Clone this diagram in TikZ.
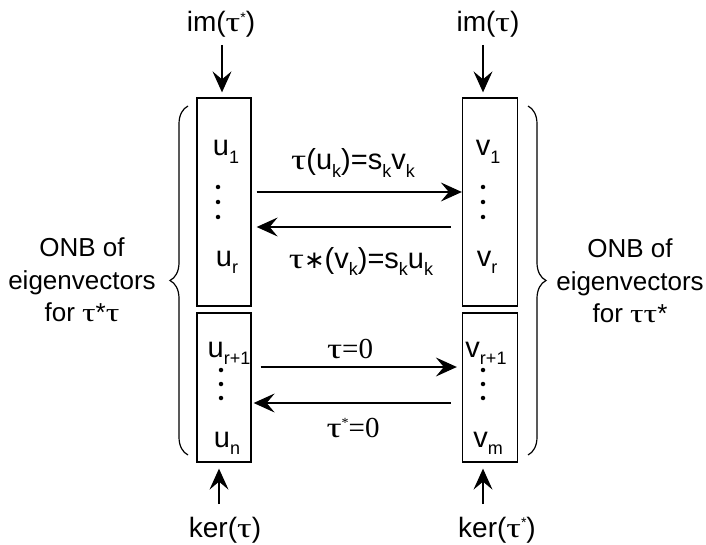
\documentclass[tikz,border=0pt]{standalone}
\usepackage{fontspec}
\usepackage{graphicx}
\setmainfont{Liberation Sans}
\newfontfamily\grf{Liberation Serif}
\newfontfamily\djsf{DejaVu Sans}
\usetikzlibrary{arrows.meta,decorations.pathreplacing}
\newcommand\tu{{\grf\scalebox{1.3}[1]{τ}}}
\newcommand\sbx[1]{\raisebox{-0.25em}{\fontsize{18}{18}\selectfont #1}}
\newcommand\spx[1]{\raisebox{0.33em}{\fontsize{14}{14}\selectfont #1}}
\begin{document}
\begin{tikzpicture}[x=1pt,y=-1pt,
  box/.style={draw,line width=1.3pt,minimum width=54pt,inner sep=0pt},
  arr/.style={line width=1.2pt,-{Stealth[length=21pt,width=19pt,inset=8pt]}},
  lab/.style={font=\fontsize{29}{34}\selectfont,inner sep=0pt,anchor=base},
  side/.style={font=\fontsize{26}{32.5}\selectfont,align=center,inner sep=0pt},
  ends/.style={font=\fontsize{28}{32}\selectfont,inner sep=0pt,anchor=base},
  dotc/.style={fill,circle,inner sep=0pt,minimum size=4.5pt},
  brc/.style={decorate,decoration={brace,amplitude=18pt},line width=1.2pt}]
\useasboundingbox (0,0) rectangle (706,545);
% boxes
\node[box,minimum height=208pt] (UL) at (224,202) {};
\node[box,minimum height=149pt] (LL) at (224,387.5) {};
\node[box,minimum width=55pt,minimum height=208pt] (UR) at (490,202) {};
\node[box,minimum width=55pt,minimum height=149pt] (LR) at (490,387.5) {};
% box contents
\node[lab] (u1) at (226,156) {u\sbx{1}};
\node[lab] (ur) at (227,266) {u\sbx{r}};
\node[lab] (ur1) at (229,357) {u\sbx{r+1}};
\node[lab] (un) at (227,447) {u\sbx{n}};
\node[lab] (v1) at (488,156) {v\sbx{1}};
\node[lab] (vr) at (487,266) {v\sbx{r}};
\node[lab] (vr1) at (486,357) {v\sbx{r+1}};
\node[lab] (vm) at (488,447) {v\sbx{m}};
\foreach \y in {187,202,217}{\node[dotc] at (218,\y) {}; \node[dotc] at (483,\y) {};}
\foreach \y in {370,384,398}{\node[dotc] at (221,\y) {}; \node[dotc] at (483,\y) {};}
% top/bottom labels
\node[ends] (imL) at (221,32) {im(\tu\spx{*})};
\node[ends] (imR) at (488,32) {im(\tu)};
\node[ends] (kerL) at (225,537) {ker(\tu)};
\node[ends] (kerR) at (497,537) {ker(\tu\spx{*})};
\draw[arr] (222,45) coordinate (a1) -- ([yshift=5]a1 |- UL.north) ;
\draw[arr] (483,45) coordinate (a2) -- ([yshift=5]a2 |- UR.north);
\draw[arr] (219,504) coordinate (a3) -- ([yshift=-6]a3 |- LL.south);
\draw[arr] (483,504) coordinate (a4) -- ([yshift=-6]a4 |- LR.south);
% horizontal arrows
\draw[arr] ([shift={(5,-10)}]UL.east) -- ([shift={(0,-10)}]UR.west);
\draw[arr] ([shift={(-11,25)}]UR.west) -- ([shift={(5,25)}]UL.east);
\draw[arr] ([shift={(9,-20.5)}]LL.east) -- ([shift={(-5,-20.5)}]LR.west);
\draw[arr] ([shift={(-11,15.5)}]LR.west) -- ([shift={(2,15.5)}]LL.east);
\node[lab] (t1) at (353,170) {\tu(u\sbx{k})=s\sbx{k}v\sbx{k}};
\node[lab] (t2) at (361,268) {\tu{\djsf\scalebox{0.85}{∗}}(v\sbx{k})=s\sbx{k}u\sbx{k}};
\node[lab] (t3) at (350,358) {{\grf \tu=0}};
\node[lab] (t4) at (353,437) {{\grf \tu\spx{*}=0}};
% braces
\draw[brc] (188,455) -- (188,106);
\draw[brc] (528,106) -- (528,455);
\node[side] (onbL) at (82,280) {ONB of\\eigenvectors\\for \tu*\tu};
\node[side] (onbR) at (630,281) {ONB of\\eigenvectors\\for \tu\tu*};
\end{tikzpicture}
\end{document}
